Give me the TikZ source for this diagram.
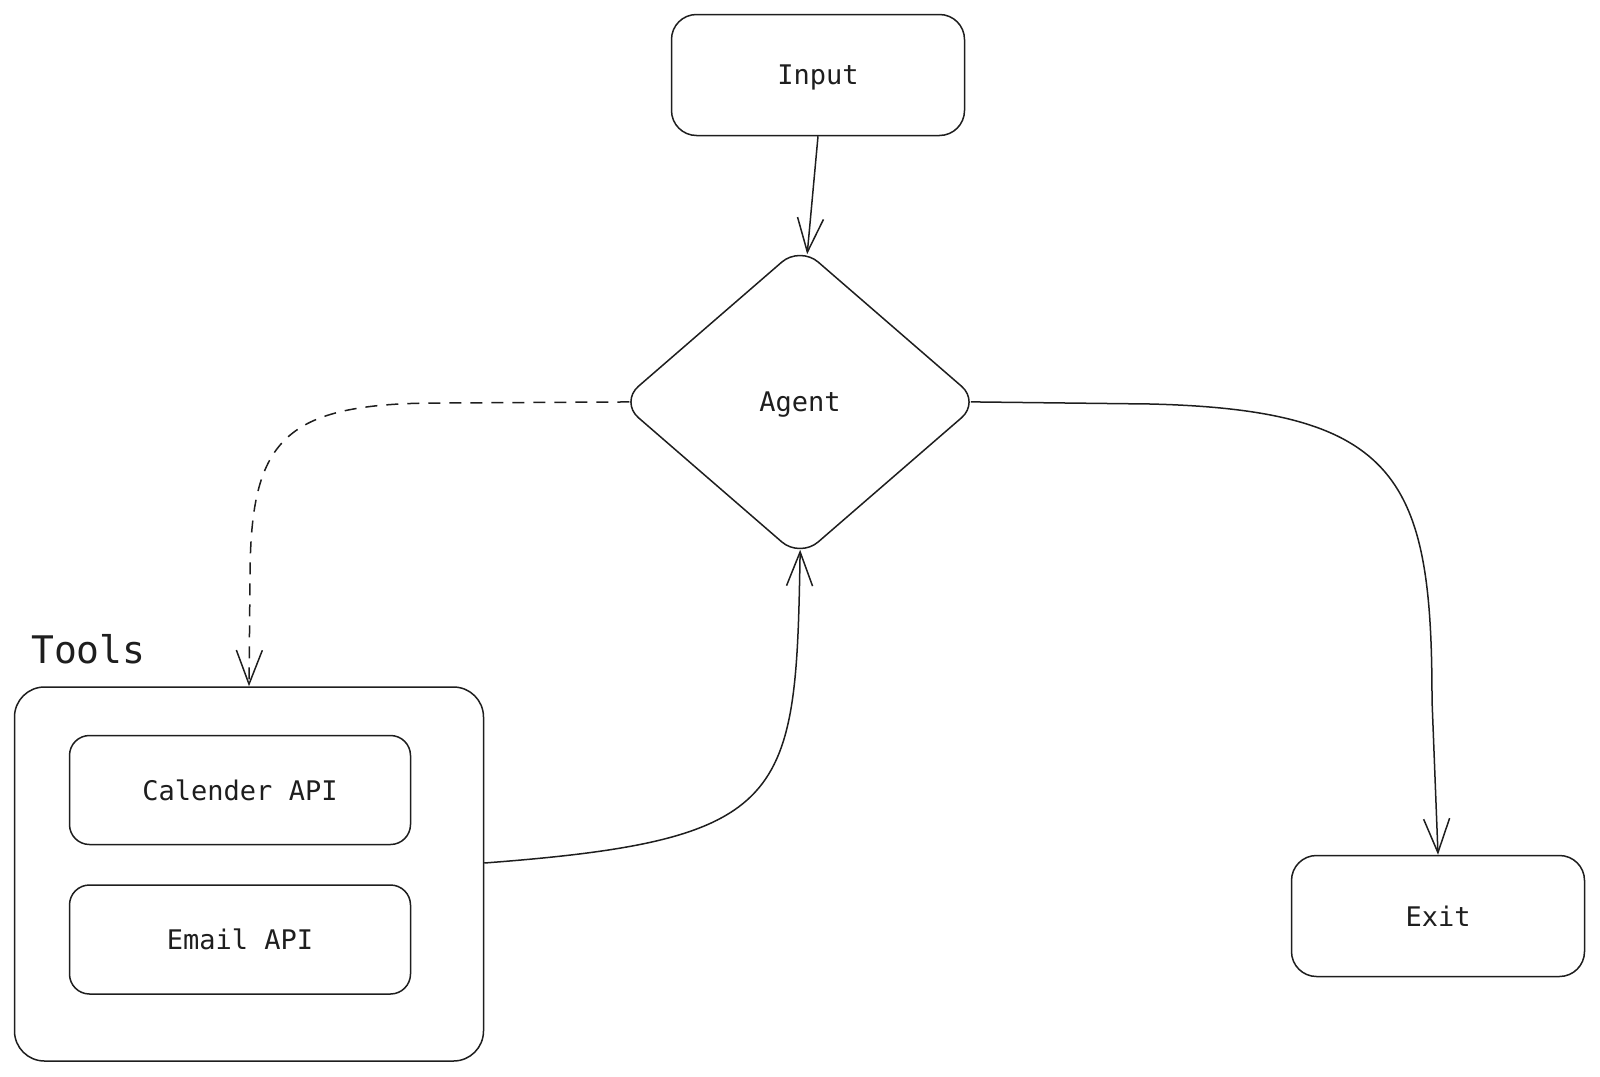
\documentclass[tikz,border=0pt]{standalone}
\usepackage{fontspec}
\setmonofont{DejaVu Sans Mono}
\usetikzlibrary{arrows.meta,positioning,shapes.geometric}
\definecolor{Ink}{HTML}{1E1E1E}

\begin{document}
\begin{tikzpicture}[x=1pt,y=-1pt,
  font=\ttfamily\fontsize{27}{32}\selectfont,
  box/.style={draw=Ink,text=Ink,line width=1.5pt,rounded corners=25pt,text depth=0pt,
    minimum width=293pt,minimum height=121pt,inner sep=0pt},
  api/.style={box,rounded corners=20pt,minimum width=341pt,minimum height=109pt},
  frame/.style={box,rounded corners=30pt,minimum width=469pt,minimum height=374pt},
  decision/.style={diamond,draw=Ink,text=Ink,line width=1.5pt,rounded corners=24pt,text depth=0pt,
    aspect=1.16,minimum width=360pt,minimum height=312pt,inner sep=0pt},
  arrow/.style={-{Straight Barb[length=34pt,width=26pt]},line width=1.5pt,draw=Ink},
  call/.style={arrow,dash pattern=on 12pt off 9pt}]
\useasboundingbox (0,0) rectangle (1600,1076);
\node[box](input) at (818,75) {Input};
\node[decision](agent) at (800,402) {Agent};
\node[box](exit) at (1438,916) {Exit};
\node[frame](tools) at (249,874) {};
\node[api](calendar) at (240,790) {Calender API};
\node[api,below=39pt of calendar](email) {Email API};
\node[anchor=base west,text=Ink,inner sep=0pt,
  font=\ttfamily\fontsize{38}{44}\selectfont](toolslabel) at (31,663) {Tools};
\draw[arrow,shorten >=-9pt](input.south)--([xshift=8pt]agent.north);
\draw[call,shorten <=-10pt](agent.west)--(440,403)
  .. controls (282,403) and (250,440) .. (250,580)--(tools.north);
\draw[arrow,shorten >=-9pt]([yshift=11pt]tools.east)
  .. controls (790,840) and (796,800) .. (agent.south);
\draw[arrow,shorten <=-10pt](agent.east)--(1150,404)
  .. controls (1400,410) and (1432,480) .. (1432,700)--(exit.north);
\end{tikzpicture}
\end{document}
